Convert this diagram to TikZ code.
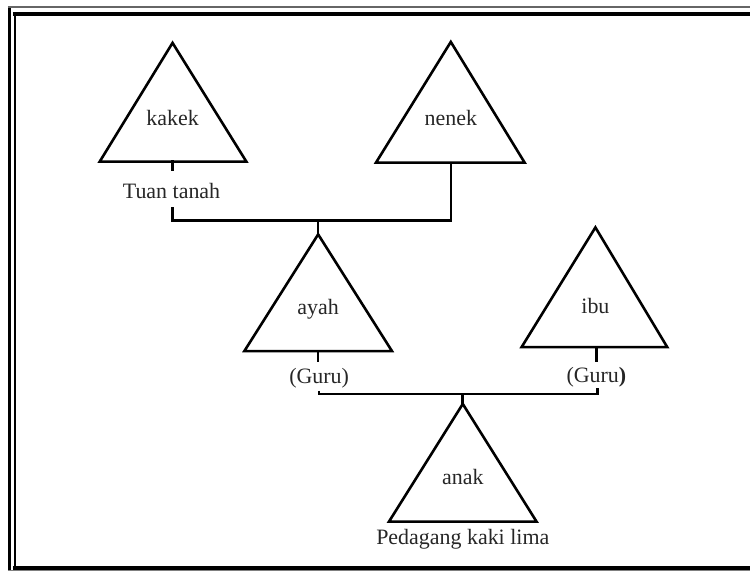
\documentclass[tikz,border=0pt]{standalone}
\usepackage{fontspec}
\setmainfont{Liberation Serif}
\usepackage{tikz}

\tikzset{
	garis/.style={line width=2.6pt, line cap=rect},
	bingkai/.style={line width=#1},
	nama/.style={font=\fontsize{22}{24}\selectfont, text=black!85, inner sep=0pt}
}

\begin{document}
\begin{tikzpicture}[x=1pt, y=-1pt]
			{\useasboundingbox (0,0) rectangle (752,573);}
			% bingkai ganda
			{\draw[bingkai=3.5pt] (9.5,7) -- (9.5,572);}
			{\draw[bingkai=2pt] (15,14) -- (15,569);}
			{\draw[bingkai=2pt, black!60] (8,7) -- (752,7);}
			{\draw[bingkai=4pt] (13,14) -- (752,14);}
			{\draw[bingkai=3.5pt] (13,569.5) -- (752,569.5);}
			{\draw[bingkai=1.5pt, black!50] (8,572) -- (752,572);}
			% segitiga
			{\draw[garis, line join=miter] (173,43) coordinate (kakek-atas) -- (247,162) -- (100,162) -- cycle;}
			{\draw[garis, line join=miter] (452,42) coordinate (nenek-atas) -- (526,163) -- (377,163) -- cycle;}
			{\draw[garis, line join=miter] (319,235) coordinate (ayah-atas) -- (393,352) -- (245,352) -- cycle;}
			{\draw[garis, line join=miter] (597,228) coordinate (ibu-atas) -- (669,348) -- (523,348) -- cycle;}
			{\draw[garis, line join=miter] (464,405) coordinate (anak-atas) -- (538,523) -- (390,523) -- cycle;}
			{\node[nama] (kakek) at (173,118) {kakek};}
			{\node[nama] (nenek) at (452,118) {nenek};}
			{\node[nama] (ayah) at (319,310) {ayah};}
			{\node[nama] (ibu) at (597,307) {ibu};}
			{\node[nama] (anak) at (464,478) {anak};}
			% pekerjaan
			{\node[nama] (tuan) at (172,191) {Tuan tanah};}
			{\node[nama] (guru-ayah) at (320,379) {(Guru)};}
			{\node[nama] (guru-ibu) at (598,378) {(Guru\textbf{)}};}
			{\node[nama] (pedagang) at (464,541) {Pedagang kaki lima};}
			% titik sambung
			{\coordinate (kakek-bawah) at (173,162);}
			{\coordinate (kakek-kaki) at (173,170);}
			{\coordinate (tuan-kaki) at (173,208);}
			{\coordinate (nenek-bawah) at (452,163);}
			{\coordinate (ayah-bawah) at (319,352);}
			{\coordinate (ayah-kaki) at (319,362);}
			{\coordinate (guru-ayah-kaki) at (320,392);}
			{\coordinate (ibu-bawah) at (598,348);}
			{\coordinate (ibu-kaki) at (598,362);}
			{\coordinate (guru-ibu-kaki) at (599,389);}
			{\coordinate (garis-atas) at (319,221);}
			{\coordinate (garis-bawah) at (464,395);}
			% garis keturunan
			{\draw[garis] (kakek-bawah) -- (kakek-kaki);}
			{\draw[garis, line cap=butt] (tuan-kaki) |- (garis-atas) -| (nenek-bawah);}
			{\draw[garis, line cap=butt] (garis-atas) -- (ayah-atas);}
			{\draw[garis] (ayah-bawah) -- (ayah-kaki);}
			{\draw[garis] (ibu-bawah) -- (ibu-kaki);}
			{\draw[garis, line cap=butt] (guru-ayah-kaki) |- (garis-bawah) -| (guru-ibu-kaki);}
			{\draw[garis, line cap=butt] (garis-bawah) -- (anak-atas);}
		\end{tikzpicture}
\end{document}
